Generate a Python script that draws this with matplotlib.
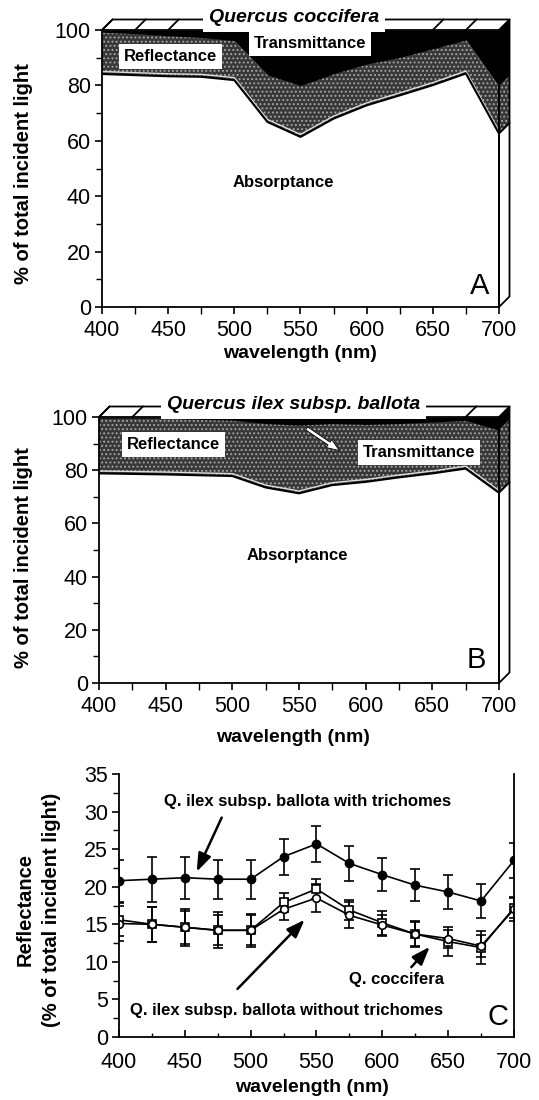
import numpy as np
import matplotlib
matplotlib.use("Agg")
import matplotlib.pyplot as plt
from matplotlib.ticker import MultipleLocator
from matplotlib.patches import Polygon

plt.rcParams['font.family'] = ['Liberation Sans', 'DejaVu Sans']
plt.rcParams['hatch.linewidth'] = 0.9

# ---- data ----
wavelength = np.array([400, 425, 450, 475, 500, 525, 550, 575, 600, 625, 650, 675, 700])

# absorptance (% of incident light), panels A and B
absorp_coccifera = np.array([84.1, 83.7, 83.3, 83.1, 81.9, 66.8, 61.4, 68.0, 72.8, 76.4, 80.1, 84.3, 62.6])
absorp_ballota = np.array([78.8, 78.6, 78.4, 78.1, 77.8, 73.5, 71.3, 74.4, 75.6, 77.3, 78.8, 80.6, 71.5])

# reflectance (panel C) with error bars
refl_with = np.array([20.8, 21.0, 21.2, 21.0, 21.0, 24.0, 25.7, 23.1, 21.6, 20.2, 19.3, 18.1, 23.5])
err_with = np.array([2.8, 3.0, 2.8, 2.6, 2.6, 2.4, 2.4, 2.3, 2.2, 2.1, 2.2, 2.2, 2.3])
refl_without = np.array([15.6, 15.0, 14.6, 14.2, 14.2, 17.9, 19.7, 16.9, 15.2, 13.7, 12.7, 11.9, 17.2])
err_without = np.array([2.2, 2.3, 2.2, 2.0, 2.0, 1.3, 1.3, 1.3, 1.6, 1.6, 1.9, 2.2, 1.4])
refl_coccifera = np.array([15.1, 15.0, 14.6, 14.2, 14.2, 17.0, 18.5, 16.2, 14.9, 13.7, 13.1, 12.1, 17.0])
err_coccifera = np.array([2.3, 2.3, 2.5, 2.4, 2.2, 1.4, 1.9, 1.7, 1.4, 1.7, 1.2, 1.5, 1.5])

W, H = 539, 1100
fig = plt.figure(figsize=(W / 100, H / 100), dpi=100)


def axes_px(left, top, right, bottom):
    return fig.add_axes([left / W, 1 - bottom / H, (right - left) / W, (bottom - top) / H])


def style_axes(ax, ymajor, yminor, xdir='out', xpad=4):
    ax.set_xlim(400, 700)
    ax.xaxis.set_major_locator(MultipleLocator(50))
    ax.xaxis.set_minor_locator(MultipleLocator(25))
    ax.yaxis.set_major_locator(MultipleLocator(ymajor))
    ax.yaxis.set_minor_locator(MultipleLocator(yminor))
    ax.tick_params(axis='both', which='major', labelsize=15.5, width=1.2, length=5)
    ax.tick_params(axis='y', which='minor', width=1.0, length=4, direction='out')
    ax.tick_params(axis='x', which='both', direction=xdir)
    ax.tick_params(axis='x', which='minor', width=1.0, length=5 if xdir == 'out' else 3)
    ax.tick_params(axis='x', pad=xpad)
    ax.tick_params(axis='y', pad=3)
    for s in ax.spines.values():
        s.set_linewidth(1.3)


GRAY = '#383838'
SPECK = '#a4a4a4'


def stacked_panel(ax, absorb, refl, title, title_x, diag_at):
    top = absorb + refl
    ax.fill_between(wavelength, 0, absorb, color='white', lw=0)
    ax.fill_between(wavelength, absorb, top, facecolor=GRAY, hatch='....',
                    edgecolor=SPECK, lw=0)
    ax.fill_between(wavelength, top, 100, color='black', lw=0)
    ax.plot(wavelength, absorb + 0.9, color='#dddddd', lw=1.0)
    ax.plot(wavelength, absorb, color='black', lw=1.5)
    ax.set_ylim(0, 100)
    style_axes(ax, 20, 10)

    # 3-D depth of the box, in data units
    pos = ax.get_position()
    dx = 10.5 * 300 / (pos.width * W)
    dy = 10.5 * 100 / (pos.height * H)
    x1, x2 = 700, 700 + dx
    a_end, t_end = absorb[-1], top[-1]
    kw = dict(clip_on=False, lw=0)
    ax.add_patch(Polygon([(x1, 100), (x2, 100 + dy), (x2, t_end + dy), (x1, t_end)],
                         fc='black', **kw))
    ax.add_patch(Polygon([(x1, t_end), (x2, t_end + dy), (x2, a_end + dy), (x1, a_end)],
                         fc=GRAY, hatch='....', ec=SPECK, **kw))
    ax.add_patch(Polygon([(x1, a_end), (x2, a_end + dy), (x2, dy), (x1, 0)],
                         fc='white', **kw))
    ax.plot([x1, x2], [a_end, a_end + dy], color='black', lw=1.3, clip_on=False)
    ax.add_patch(Polygon([(x1, 0), (x2, dy), (x2, 100 + dy), (x1, 100)],
                         fill=False, ec='black', lw=1.3, clip_on=False))
    # top face
    ax.plot([400, 400 + dx, x2], [100, 100 + dy, 100 + dy], color='black', lw=1.3,
            clip_on=False)
    for xd in diag_at:
        ax.plot([xd, xd + dx], [100, 100 + dy], color='black', lw=1.3, clip_on=False)
    ax.text(title_x, 100 + dy + 0.6, title, ha='center', va='center', fontsize=14,
            fontweight='bold', style='italic', zorder=5,
            bbox=dict(boxstyle='square,pad=0.3', fc='white', ec='none'))


def label_box(ax, x, y, s):
    ax.text(x, y, s, ha='center', va='center', fontsize=12, fontweight='bold', zorder=6,
            bbox=dict(boxstyle='square,pad=0.3', fc='white', ec='none'))


# ---- panel A ----
axa = axes_px(102, 30, 499, 307)
stacked_panel(axa, absorp_coccifera, refl_coccifera, 'Quercus coccifera', 545,
              [400, 425, 450, 650, 675])
label_box(axa, 452, 90.6, 'Reflectance')
label_box(axa, 557, 95.3, 'Transmittance')
axa.text(537, 45, 'Absorptance', ha='center', va='center', fontsize=12, fontweight='bold')
axa.text(685, 7.6, 'A', ha='center', va='center', fontsize=21)

# ---- panel B ----
axb = axes_px(99, 417, 499, 683)
stacked_panel(axb, absorp_ballota, refl_with, 'Quercus ilex subsp. ballota', 546,
              [400, 425, 675])
label_box(axb, 456, 89.8, 'Reflectance')
label_box(axb, 640, 86.5, 'Transmittance')
axb.annotate('', xy=(582, 86.8), xytext=(554, 96.3), zorder=6,
             arrowprops=dict(arrowstyle='simple,head_width=0.7,head_length=0.9,tail_width=0.25',
                             fc='white', ec='black', lw=0.6))
axb.text(549, 48, 'Absorptance', ha='center', va='center', fontsize=12, fontweight='bold')
axb.text(683, 8.8, 'B', ha='center', va='center', fontsize=21)

for y in (0.842, 0.4927):
    fig.text(24 / W, y, '% of total incident light', rotation=90, ha='center', va='center',
             fontsize=14.5, fontweight='bold')
fig.text(300 / W, 1 - 353 / H, 'wavelength (nm)', ha='center', va='center', fontsize=14,
         fontweight='bold')
fig.text(293 / W, 1 - 738 / H, 'wavelength (nm)', ha='center', va='center', fontsize=14,
         fontweight='bold')

# ---- panel C ----
axc = axes_px(119, 774, 514, 1037)
common = dict(color='black', lw=1.2, elinewidth=1.2, capsize=3.5, capthick=1.2)
axc.errorbar(wavelength, refl_with, yerr=err_with, fmt='-o', ms=6, mfc='black', **common)
axc.errorbar(wavelength, refl_without, yerr=err_without, fmt='-s', ms=5.5, mfc='white',
             mew=1.2, **common)
axc.errorbar(wavelength, refl_coccifera, yerr=err_coccifera, fmt='-o', ms=5.5, mfc='white',
             mew=1.2, **common)
axc.set_ylim(0, 35)
style_axes(axc, 5, 2.5, xdir='in', xpad=11)
axc.spines['top'].set_visible(False)

arrow = dict(arrowstyle='-|>,head_width=0.4,head_length=1.1', color='black', lw=1.8,
             shrinkA=0, shrinkB=0)
axc.text(543, 31.4, 'Q. ilex subsp. ballota with trichomes', ha='center', va='center',
         fontsize=12, fontweight='bold')
axc.annotate('', xy=(459, 22.0), xytext=(478, 29.2), arrowprops=arrow)
axc.text(527, 3.5, 'Q. ilex subsp. ballota without trichomes', ha='center', va='center',
         fontsize=12, fontweight='bold')
axc.annotate('', xy=(541, 15.6), xytext=(490, 6.4), arrowprops=arrow)
axc.text(611, 7.7, 'Q. coccifera', ha='center', va='center', fontsize=12, fontweight='bold')
axc.annotate('', xy=(636, 12.0), xytext=(622, 9.3), arrowprops=arrow)
axc.text(688, 2.6, 'C', ha='center', va='center', fontsize=21)

fig.text(25 / W, 1 - 910 / H, 'Reflectance', rotation=90, ha='center', va='center',
         fontsize=14.5, fontweight='bold')
fig.text(52 / W, 1 - 910 / H, '(% of total incident light)', rotation=90, ha='center',
         va='center', fontsize=14.5, fontweight='bold')
fig.text(312 / W, 1 - 1088 / H, 'wavelength (nm)', ha='center', va='center', fontsize=14,
         fontweight='bold')

fig.savefig('out.png', dpi=100)
